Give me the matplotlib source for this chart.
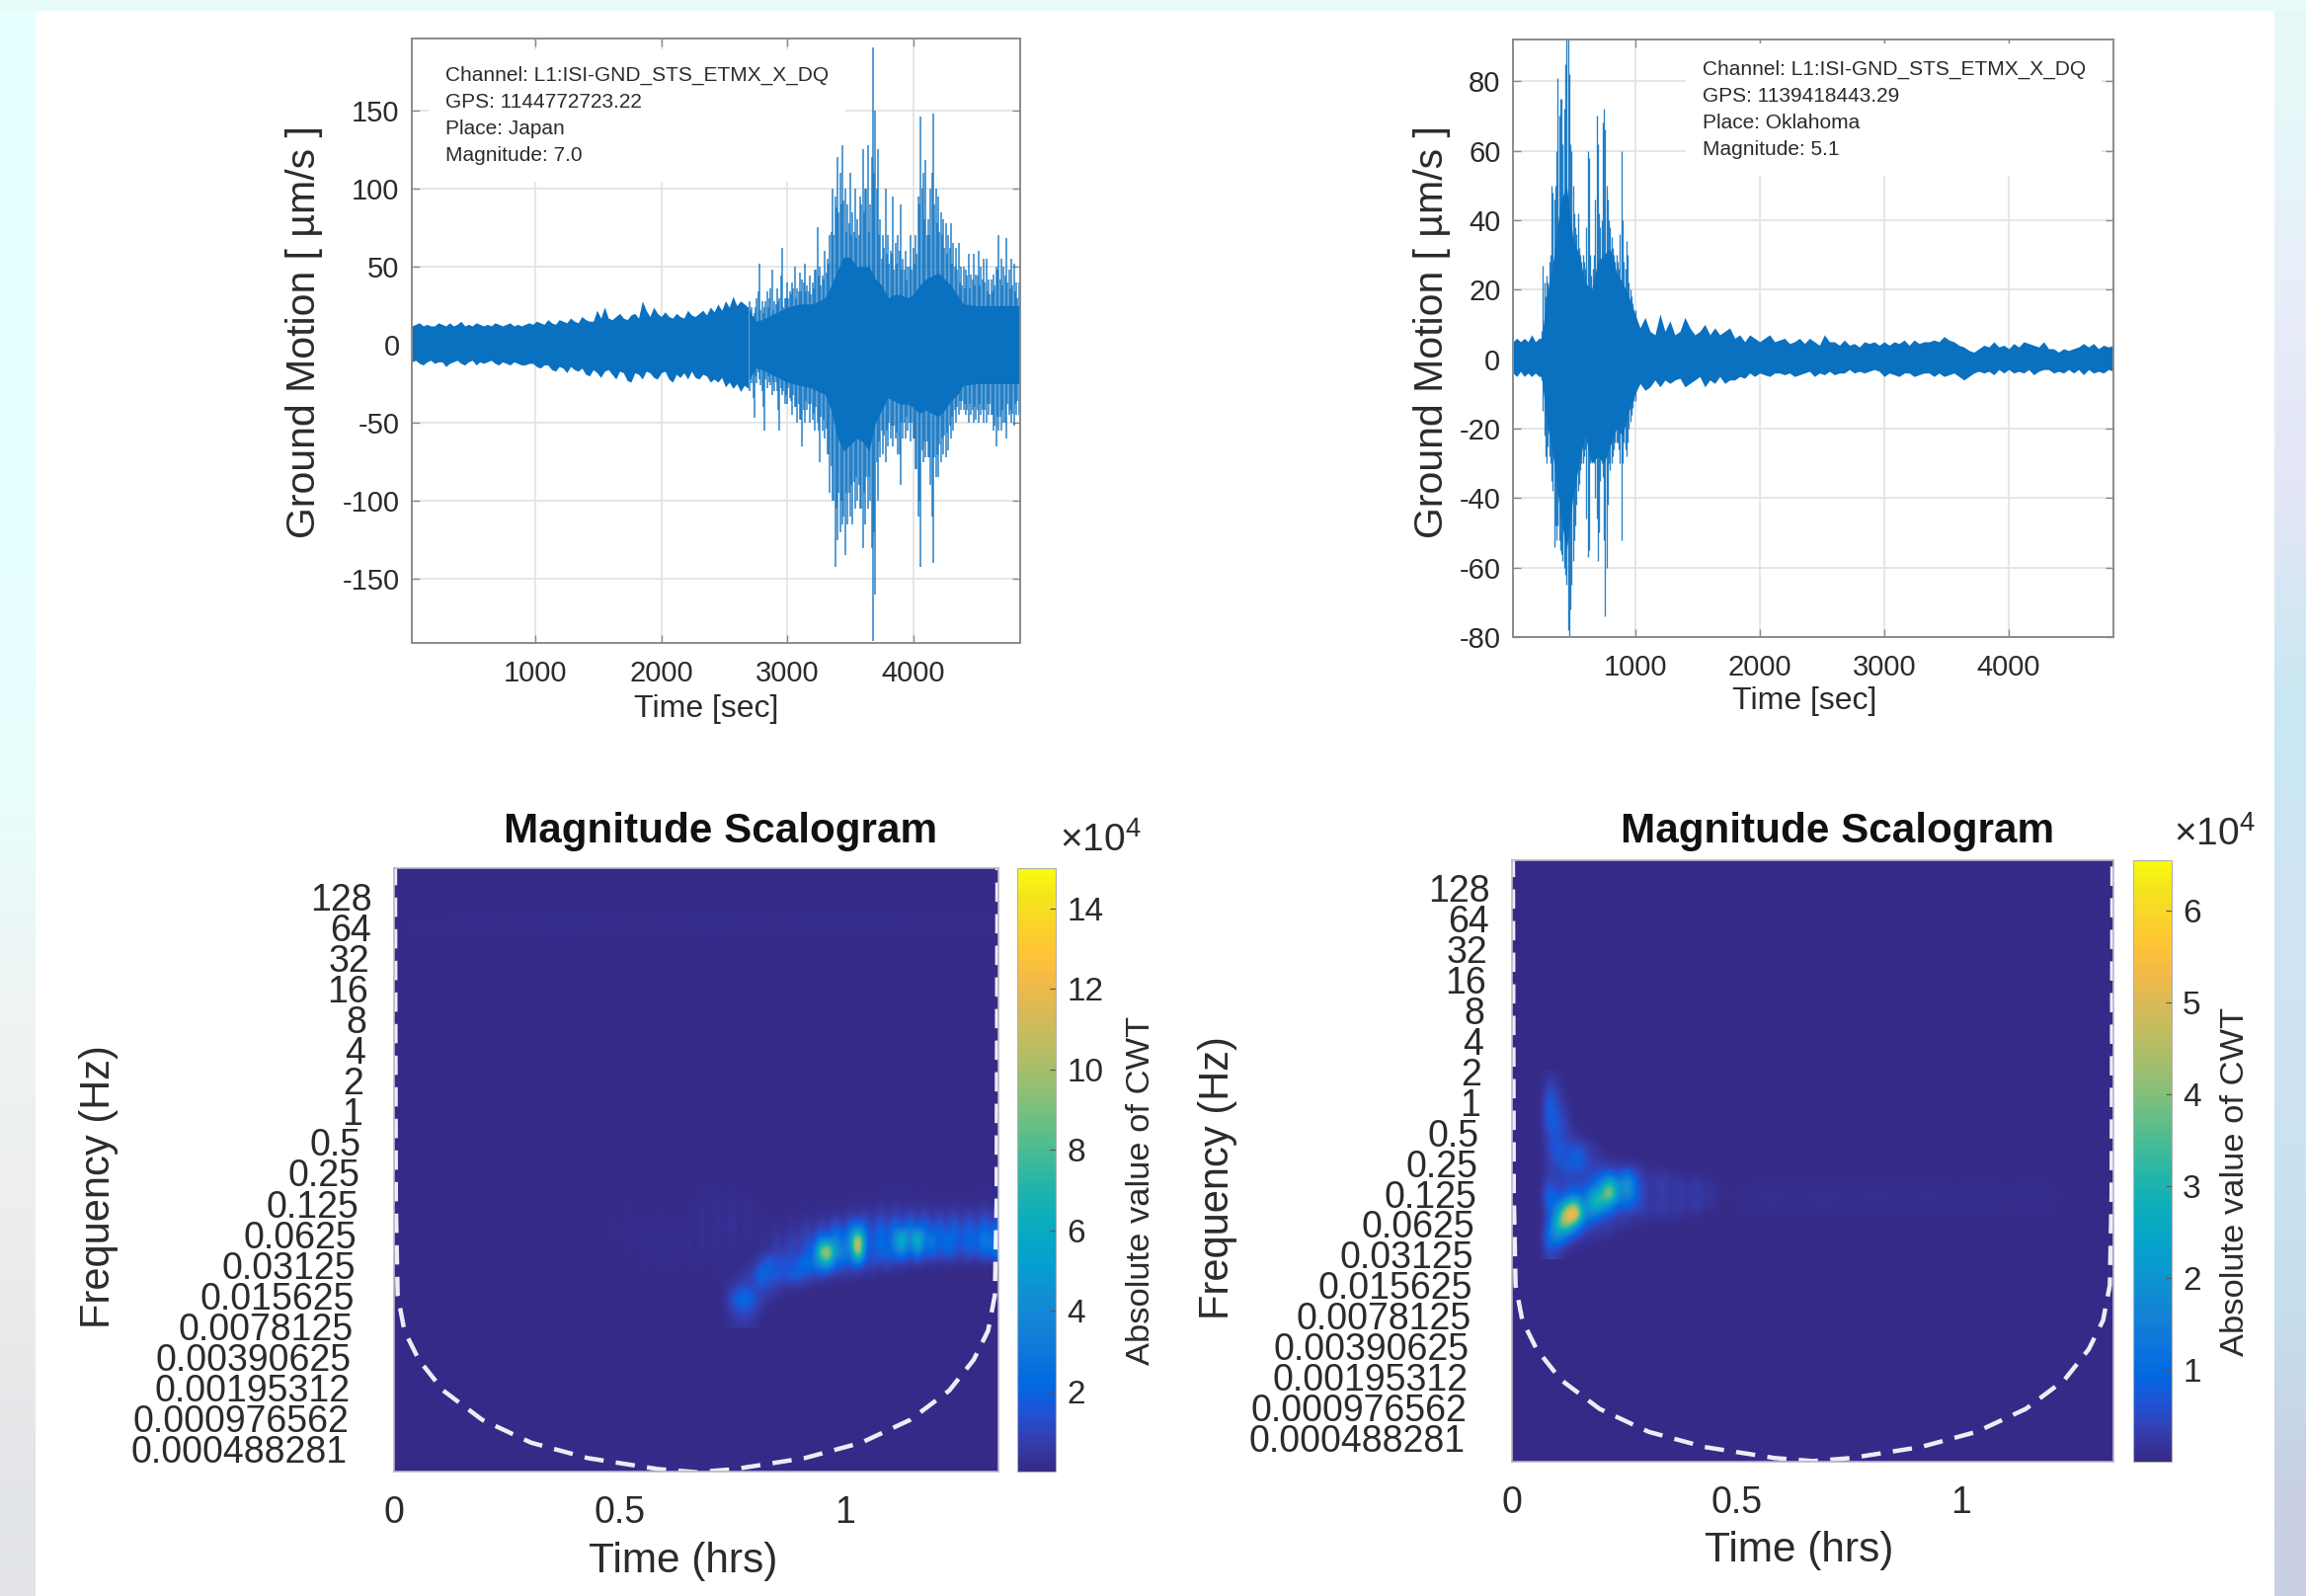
import numpy as np
import matplotlib
matplotlib.use('Agg')
import matplotlib.pyplot as plt
from matplotlib.colors import LinearSegmentedColormap, Normalize
from matplotlib.cm import ScalarMappable

plt.rcParams['font.family'] = ['Liberation Sans', 'DejaVu Sans']
plt.rcParams['mathtext.fontset'] = 'custom'
plt.rcParams['mathtext.rm'] = 'Liberation Sans'
plt.rcParams['axes.unicode_minus'] = False

W, H = 2335, 1616
BLUE = '#0a70c0'
TXT = '#2b2b2b'

# ---------- data: waveform, Japan ----------
jp_quiet_t = list(range(20, 2720, 30))
jp_quiet_up = [12,13,14,12,13,12,12,14,13,12,
 14,12,13,15,12,13,12,14,13,12,
 13,12,14,13,12,13,14,12,13,12,
 13,14,13,15,14,13,16,14,13,16,
 15,14,17,15,14,18,16,15,15,22,
 17,24,17,16,18,20,17,16,19,20,
 17,28,22,18,24,20,18,21,18,17,
 20,18,17,22,19,18,20,22,19,24,
 21,26,22,28,24,31,25,28,26,24]
jp_quiet_low = [-11,-10,-12,-13,-11,-10,-12,-11,-11,-14,
 -12,-11,-10,-12,-13,-11,-10,-13,-11,-12,
 -11,-10,-12,-13,-11,-12,-13,-11,-12,-13,
 -13,-12,-12,-14,-15,-13,-13,-16,-17,-14,
 -15,-18,-14,-16,-17,-15,-19,-20,-16,-18,
 -21,-17,-16,-19,-22,-17,-18,-23,-24,-18,
 -19,-22,-17,-18,-21,-22,-18,-17,-22,-24,
 -19,-21,-18,-22,-17,-21,-22,-19,-20,-24,
 -22,-24,-21,-27,-24,-28,-25,-30,-26,-28]
jp_core_t = [2700,2750,2800,2900,3000,3100,3200,3300,3350,3400,3450,3500,3550,3600,3650,3700,3750,3800,3850,3900,3950,4000,4050,4100,4150,4200,4250,4300,4350,4400,4500,4600,4700,4850]
jp_core_up = [22,15,16,20,24,26,26,30,38,48,56,56,50,50,50,42,38,30,32,32,30,32,38,42,44,46,42,38,32,26,25,25,25,25]
jp_core_low = [-22,-15,-16,-20,-24,-26,-28,-32,-42,-60,-68,-64,-60,-62,-68,-50,-42,-34,-36,-38,-38,-40,-44,-42,-44,-46,-42,-36,-32,-26,-25,-25,-25,-25]
jp_dense_t = list(range(2700, 4860, 20))
jp_dense_up = [28,24,20,30,52,
 28,24,34,30,48,
 28,36,30,62,30,
 40,34,40,50,36,
 46,42,52,38,44,
 40,48,75,50,44,
 60,55,70,100,95,
 120,110,128,100,90,
 110,85,100,80,95,
 125,100,128,90,190,
 150,125,80,70,100,
 70,60,95,65,70,
 90,55,60,50,70,
 62,70,95,146,110,
 118,80,100,148,100,
 95,85,80,78,70,
 78,65,62,65,50,
 50,48,58,45,58,
 45,60,50,55,55,
 42,42,45,50,70,
 55,50,68,48,55,
 52,40,40]
jp_dense_low = [-30,-25,-47,-25,-22,
 -30,-55,-28,-24,-32,
 -30,-30,-55,-32,-38,
 -38,-34,-45,-40,-50,
 -48,-65,-50,-42,-50,
 -48,-55,-50,-75,-55,
 -60,-70,-95,-100,-142,
 -125,-120,-115,-135,-115,
 -110,-115,-105,-100,-105,
 -130,-115,-105,-100,-190,
 -160,-100,-72,-70,-75,
 -65,-60,-65,-60,-70,
 -90,-60,-60,-55,-62,
 -60,-80,-110,-142,-75,
 -72,-72,-90,-140,-85,
 -85,-75,-70,-72,-68,
 -60,-55,-50,-45,-42,
 -42,-45,-50,-45,-50,
 -48,-50,-45,-50,-50,
 -45,-45,-55,-65,-55,
 -55,-50,-60,-45,-50,
 -52,-45,-45]
jp_mid_t = list(range(2710, 4870, 20))
jp_mid_up = [22,18,24,34,22, 20,28,24,36,22, 26,28,44,24,30, 30,32,36,30,34, 34,40,34,34,32, 36,48,44,38,42, 46,52,72,70,88, 85,90,92,72,78, 70,72,68,70,90, 85,100,72,120,110, 100,70,55,62,58, 52,58,48,52,60, 48,48,42,50,48, 52,58,90,100,80, 70,70,110,90,78, 72,70,62,58,62, 52,50,48,40,38, 36,44,36,42,38, 44,38,42,40,34, 32,34,38,48,42, 38,44,40,36,38, 34,30,34]
jp_mid_low = [-22,-34,-20,-18,-26, -40,-22,-20,-26,-24, -24,-42,-28,-30,-32, -28,-36,-32,-40,-38, -48,-42,-36,-38,-38, -44,-40,-55,-46,-48, -54,-70,-78,-100,-105, -95,-100,-110,-95,-95, -90,-88,-85,-90,-105, -95,-85,-85,-130,-120, -75,-62,-55,-58,-55, -50,-52,-52,-56,-70, -50,-50,-46,-50,-50, -60,-80,-100,-68,-62, -62,-72,-110,-72,-70, -64,-60,-58,-56,-52, -46,-42,-40,-36,-36, -38,-42,-38,-42,-40, -42,-38,-42,-42,-38, -38,-45,-52,-46,-46, -42,-50,-38,-42,-44, -38,-36,-36]

# ---------- data: waveform, Oklahoma ----------
ok_quiet_t = list(range(20, 290, 30))
ok_quiet_up = [5,6,5,6,5,7,5,6,6]
ok_quiet_low = [-4,-5,-3.5,-5,-4,-5,-4,-5,-5]
ok_core_t = [250,280,300,350,400,450,500,550,600,650,700,750,800,850,900,950,1000]
ok_core_up = [6,15,20,30,45,50,35,30,22,20,28,30,32,25,22,18,13]
ok_core_low = [-5,-15,-20,-30,-45,-55,-40,-30,-22,-30,-28,-30,-25,-20,-22,-15,-10]
ok_dense_t = list(range(250, 1010, 10))
ok_dense_up = [8,27,22,18,24,22,28,30,50,48,
 46,50,60,81,70,75,75,62,72,85,
 92,92,82,62,60,50,42,38,36,42,
 32,30,28,30,28,26,38,60,58,30,
 24,26,30,46,70,62,42,38,40,68,
 72,66,50,46,40,38,35,32,30,28,
 30,28,26,36,60,40,28,26,34,30,
 22,20,18,16,14,14]
ok_dense_low = [-6,-15,-22,-28,-30,-25,-28,-30,-35,-38,
 -54,-48,-52,-48,-52,-55,-56,-58,-60,-62,
 -65,-78,-80,-72,-65,-58,-52,-48,-42,-38,
 -36,-32,-30,-30,-28,-26,-46,-57,-55,-30,
 -26,-28,-30,-40,-46,-58,-50,-35,-30,-34,
 -52,-74,-60,-42,-30,-32,-30,-28,-26,-24,
 -24,-24,-26,-30,-52,-30,-24,-26,-28,-24,
 -20,-18,-16,-14,-12,-12]
ok_tail_t = list(range(1000, 4880, 40))
ok_tail_up = [13,9,12,8,7,13,8,11,7,8,
 12,9,7,8,10,7,9,7,8,9,
 6,7,5,7,6,5,6,7,5,5.5,
 6,4.5,5,6,4.5,6,5,4,7,5,
 5,4,5.5,4,4.5,3.5,5,4.5,5,4,
 5,4,5,4.5,5.5,4,5.5,4.5,5,5,
 5.5,5,6.5,5.5,5,4,3.5,2.5,2,3,
 4,3.5,5,3.5,4,3,4.5,3.5,5,4.5,
 4,3.5,5,3,3,2,3,2.5,3,3.5,
 4.5,3.5,4.5,3,4,3.5,4]
ok_tail_low = [-10,-7,-9,-8,-6,-8,-6,-7,-6,-5.5,
 -8,-7,-6,-5,-8,-6,-7,-5,-7,-6,
 -6,-5,-5.5,-4,-5,-4,-4.5,-5,-4,-4,
 -4.5,-4,-5,-4.5,-4,-3.5,-5,-4,-4.5,-3.5,
 -4.5,-4,-4,-3,-4,-3.5,-4,-3.5,-3,-3.5,
 -5,-4,-4.5,-5,-4,-4,-5,-4.5,-4,-4,
 -5,-4,-5,-4.5,-4,-5,-6,-5,-4,-3.5,
 -4,-3.5,-4.5,-3,-4,-3,-4,-3.5,-4,-3,
 -4.5,-3.5,-3,-3,-4,-3.5,-4,-3,-4,-3,
 -4.5,-3,-4,-3.5,-4,-3,-3.5]

# ---------- data: scalograms ----------
freq_labels = ['128','64','32','16','8','4','2','1','0.5','0.25','0.125','0.0625','0.03125','0.015625','0.0078125','0.00390625','0.00195312','0.000976562','0.000488281']
freq_octaves = [7,6,5,4,3,2,1,0,-1,-2,-3,-4,-5,-6,-7,-8,-9,-10,-11]
coi_t = [0.002,0.004,0.008,0.023,0.055,0.109,0.195,0.304,0.429,0.585,0.67,0.755,0.91,1.035,1.144,1.23,1.284,1.316,1.331,1.335,1.337]
coi_oct = [8,-3,-6,-7.15,-8.1,-9.1,-10.05,-10.8,-11.3,-11.66,-11.76,-11.66,-11.3,-10.8,-10.05,-9.1,-8.1,-7.15,-6,-3,8]

jp_rows = [
 [0,.2,0,.2,0,.2,0,.15,0,0,0,0,0,0,0,0,0,0,0,0,0,.1,0,.1,0,.15,.1,.1,.1,.15,0,.15,0,.1,0,.15,0,.1,.05,.15,.05,.1],
 [.1,.3,.05,.35,.05,.35,.05,.35,.05,.1,0,0,0,.1,0,.15,0,.15,0,.15,0,.2,.05,.2,.05,.35,.1,.4,.1,.4,.1,.35,.05,.2,.05,.35,.05,.3,.05,.4,.1,.2],
 [.1,.35,.05,.35,.05,.4,.05,.35,.05,.15,.05,.15,.05,.2,.05,.35,.05,.35,.1,.6,.2,.8,.3,1.0,.3,1.1,.4,1.2,.4,1.3,.4,1.2,.4,1.0,.4,1.0,.4,1.0,.4,1.3,.5,1.2],
 [.05,.35,.05,.4,.05,.5,.05,.35,.05,.2,.05,.4,.1,.5,.15,.9,.3,1.2,.6,2.0,.8,2.3,3,2.3,.6,2.5,.8,3,1.0,3.5,1.0,3,.8,2.5,.8,2.5,.8,2.5,.8,2.6,1.0,3],
 [.05,.4,.05,.4,.05,.4,.05,.35,.05,.35,.1,.7,.2,1.0,.4,1.5,.8,3,2,4,2,4.5,15,2.5,1.2,3,1.6,4,10,1.8,11,2,4,1.6,3,2,1.4,2.6,1.6,4,2.4,4.5],
 [.05,.3,.05,.2,.05,.2,.05,.2,.05,.35,.2,1.0,.4,1.4,.5,1.8,1.5,11,14,4.5,4,2.5,15,1.6,1.2,2.6,1.6,3,4,1.4,4.5,1.6,2.6,1.2,2.6,1.6,1,2.2,1.2,2.6,2.2,4],
 [.05,.15,.05,.15,.05,.15,.1,.2,.3,1.2,2.6,1,2.1,1,2.1,3,2.6,5,6,2,2.4,1.3,2.6,.8,1.5,.6,1.5,.4,.8,.3,.6,.2,.35,.15,.2,.2,.15,.2,.05,.15,.05,.15],
 [.05,.05,0,.15,.15,.2,.3,.6,1.2,3,1.3,2.1,1.2,2.1,2.1,1.4,.9,.8,.4,.4,.3,.3,.2,.2,.15],
 [0,0,0,.05,.2,.4,.9,1.2,.8,1.1,1.1,.6,.4,.3,.2,.15,.05,.05],
 [0,0,0,0,.2,1.6,2.6,2.8,1.6,.8,.3,.15,.05],
 [0,0,0,0,.15,.7,1.2,1.3,.8,.3,.05],
 [0,0,0,0,.05,.35,.5,.5,.3,.05],
]
jp_faint = [
 [0,.05,0,.1,0,.05,0,.05,0,.05,0,.05],
 [0,.2,0,.25,0,.2,0,.25,0,.25,0,.2],
 [0,.12,0,.2,0,.25,0,.25,0,.25,0,.25],
 [0,0,0,.05,0,.12,0,.2,0,.2,0,.12],
]
jp_band = [
 [.03,.06,.05,.06,.06,.05,.06,.06,.05,.06,.06,.06,.05,.06],
 [.12,.16,.13,.18,.16,.13,.16,.18,.13,.16,.18,.16,.13,.12],
 [.06,.08,.06,.08,.06,.08,.06,.08,.06,.08,.06,.08,.06,.06],
]
ok_rows = [
 [0,.2,.05],
 [0,.5,.2],
 [0,.8,.3,.05],
 [0,1.0,.4,.1],
 [0,1.0,.6,.2],
 [0,.9,.7,.35,.05],
 [0,.6,.6,.35,.15,.05],
 [0,.5,.8,.45,.6,.3,.2,.05],
 [0,.35,.9,.5,1.0,.7,.2,.2,.05,.05],
 [0,.35,.5,.7,1.0,.6,.35,.3,.2,.2,.15,.15,.05],
 [0,.35,.35,.5,.4,.4,.6,.8,1.0,.6,1.3,.6,.2,.15,.3,.15,.15,.05,.15,.05],
 [0,.7,.3,.5,.6,.5,.8,1.8,4.0,1.5,2.8,.8,.3,.15,.4,.15,.3,.15,.3,.15,.15],
 [0,1.3,.4,.8,1.2,.7,2.6,3.3,5.2,1.5,1.8,1.0,.35,.15,.4,.15,.35,.15,.3,.15,.2,.05,.05],
 [0,1.0,1.3,3,4.5,1.0,3.5,3.0,1.8,.8,1.0,.6,.35,.15,.35,.15,.3,.15,.3,.15,.15],
 [0,.5,2.5,6,6.9,1.6,1.6,.8,.6,.3,.35,.2,.3,.15,.3,.15,.2,.05,.15,.05],
 [0,.8,3.5,4.8,2.3,.7,.5,.3,.3,.15,.2,.05,.05],
 [0,1.3,2.3,1.3,.6,.3,.2,.15,.15],
 [0,1.1,.8,.35,.15,.05,.05,.05],
 [0,.45,.2,.05],
]
ok_trail = [
 [0,.03,0,.03,0,.03,0,.03,0,.03,0,.03,0,0],
 [.06,.16,.06,.14,.06,.13,.06,.13,.05,.12,.05,.1,.04,0],
 [.03,.1,.03,.1,.03,.09,.03,.09,.02,.08,.02,.06,.02,0],
]

# ---------- data: page background ----------
left_strip = ['#e6ffff','#e6ffff','#e6ffff','#e8fdfc','#eff3f3','#ecedee','#e3e5e8']
right_strip = ['#e6f8f8','#e8eef9','#e3e6f6','#c9e8f2','#cfe4f5','#cde3f4','#c6dfee','#c8cfe4']

PARULA = [(.2081,.1663,.5292),(.2081,.2386,.6771),(.1253,.3242,.8303),(.0060,.4086,.8828),(.0498,.4586,.8641),(.0779,.5040,.8384),(.0641,.5570,.8240),(.0265,.6137,.8135),(.0228,.6535,.7768),(.0590,.6838,.7254),(.1453,.7098,.6646),(.2586,.7317,.5954),(.3953,.7459,.5244),(.5300,.7491,.4661),(.6473,.7456,.4188),(.7525,.7384,.3768),(.8507,.7299,.3360),(.9450,.7261,.2886),(.9990,.7653,.2164),(.9789,.8271,.1633),(.9589,.8949,.1132),(.9763,.9831,.0538)]
parula = LinearSegmentedColormap.from_list('parula', PARULA, 256)


def rect(l, t, r, b):
    return [l / W, 1 - b / H, (r - l) / W, (b - t) / H]


def ptext(x, y, s, **kw):
    kw.setdefault('ha', 'center')
    kw.setdefault('va', 'center')
    kw.setdefault('color', TXT)
    fig.text(x / W, 1 - y / H, s, **kw)


fig = plt.figure(figsize=(W / 100, H / 100), dpi=100, facecolor='white')

# background strips
bg = fig.add_axes([0, 0, 36 / W, 1], zorder=-5)
bg.imshow(matplotlib.colors.to_rgba_array(left_strip).reshape(-1, 1, 4), aspect='auto', interpolation='bilinear')
bg.axis('off')
bg = fig.add_axes([2303 / W, 0, 32 / W, 1], zorder=-5)
bg.imshow(matplotlib.colors.to_rgba_array(right_strip).reshape(-1, 1, 4), aspect='auto', interpolation='bilinear')
bg.axis('off')
fig.patches.append(plt.Rectangle((0, 1 - 10 / H), 1, 10 / H, transform=fig.transFigure, color='#e6fbfa', zorder=-4))


def wave(box, fills, needles, xlim, ylim, yticks, info, info_xy, ylab_xy, xlab_xy):
    ax = fig.add_axes(rect(*box))
    ax.grid(True, color='#e4e4e4', lw=1.3)
    ax.set_axisbelow(True)
    ax.text(info_xy[0], info_xy[1], '\n'.join(info), transform=ax.transAxes, fontsize=15, color=TXT, va='top', ha='left',
            linespacing=1.53, zorder=1.5, bbox=dict(fc='white', ec='none', pad=12))
    for t, up, low in fills:
        ax.fill_between(t, low, up, color=BLUE, lw=0, zorder=3)
    for t, up, low, lw in needles:
        ax.vlines(t, low, up, color=BLUE, lw=lw, alpha=.88, zorder=3)
    ax.set_xlim(*xlim)
    ax.set_ylim(*ylim)
    ax.set_xticks([1000, 2000, 3000, 4000])
    ax.set_yticks(yticks)
    ax.tick_params(direction='in', top=True, right=True, length=6, width=1, color='#8a8a8a', labelsize=21, labelcolor=TXT, pad=9)
    ax.tick_params(axis='x', pad=12)
    for s in ax.spines.values():
        s.set_color('#8a8a8a')
        s.set_linewidth(1.4)
        s.set_zorder(5)
    ptext(*ylab_xy, 'Ground Motion [ µm/s ]', rotation=90, fontsize=29.5)
    ptext(*xlab_xy, 'Time [sec]', fontsize=23)


wave((417, 39, 1033, 651), [(jp_quiet_t, jp_quiet_up, jp_quiet_low), (jp_core_t, jp_core_up, jp_core_low)],
     [(jp_mid_t, jp_mid_up, jp_mid_low, 1.1), (jp_dense_t, jp_dense_up, jp_dense_low, 1.1)],
     (20, 4850), (-191, 196), [-150, -100, -50, 0, 50, 100, 150],
     ['Channel: L1:ISI-GND_STS_ETMX_X_DQ', 'GPS: 1144772723.22', 'Place: Japan', 'Magnitude: 7.0'],
     (.055, .954), (308, 336), (715, 718))
wave((1532, 40, 2140, 645), [(ok_quiet_t, ok_quiet_up, ok_quiet_low), (ok_core_t, ok_core_up, ok_core_low), (ok_tail_t, ok_tail_up, ok_tail_low)],
     [(ok_dense_t, ok_dense_up, ok_dense_low, .95)],
     (20, 4840), (-80, 92), [-80, -60, -40, -20, 0, 20, 40, 60, 80],
     ['Channel: L1:ISI-GND_STS_ETMX_X_DQ', 'GPS: 1139418443.29', 'Place: Oklahoma', 'Magnitude: 5.1'],
     (.315, .965), (1450, 336), (1827, 710))


def pad(rows):
    n = max(len(r) for r in rows)
    return np.array([list(r) + [0] * (n - len(r)) for r in rows], float)


def scalo(box, cbox, vmax, patches, cticks, ylim, title_xy, xlab_xy, ylab_xy, clab_xy, exp_xy):
    ax = fig.add_axes(rect(*box), facecolor=PARULA[0])
    for m, ext in patches:
        ax.imshow(pad(m), extent=ext, cmap=parula, vmin=0, vmax=vmax, interpolation='bicubic', aspect='auto', origin='upper')
    ax.plot(coi_t, coi_oct, color='white', ls=(0, (4.4, 2.8)), lw=3.2, alpha=.92)
    ax.set_xlim(0, 1.339)
    ax.set_ylim(*ylim)
    ax.set_xticks([0, .5, 1])
    ax.set_xticklabels(['0', '0.5', '1'])
    ax.set_yticks(freq_octaves)
    ax.set_yticklabels(freq_labels)
    ax.tick_params(length=0, labelsize=27, labelcolor=TXT)
    ax.tick_params(axis='x', pad=17)
    for i, tk in enumerate(ax.yaxis.get_major_ticks()):
        tk.set_pad(16 + i * 1.0)
    for s in ax.spines.values():
        s.set_color('#b5b5c8')
        s.set_linewidth(1.2)
    cax = fig.add_axes(rect(*cbox))
    cb = fig.colorbar(ScalarMappable(Normalize(0, vmax), parula), cax=cax)
    cb.set_ticks(cticks)
    cax.tick_params(length=4, direction='in', labelsize=24, labelcolor=TXT, pad=8, color='#555555')
    cb.outline.set_edgecolor('#b0b0b0')
    ptext(*title_xy, 'Magnitude Scalogram', fontsize=30.4, fontweight='bold', color='#111111')
    ptext(*xlab_xy, 'Time (hrs)', fontsize=30.5)
    ptext(*ylab_xy, 'Frequency (Hz)', rotation=90, fontsize=30)
    ptext(*clab_xy, 'Absolute value of CWT', rotation=90, fontsize=24.8)
    ptext(*exp_xy, r'$\mathregular{\times 10^{4}}$', fontsize=28)


scalo((399, 879, 1011, 1490), (1030, 879, 1069, 1490), 15,
      [(jp_band, [.03, 1.33, 5.5, 6.6]), (jp_faint, [.46, .66, -5.3, -2.7]), (jp_rows, [.659, 1.348, -7.06, -2.43])],
      [2, 4, 6, 8, 10, 12, 14], (-11.74, 7.93), (730, 842), (692, 1581), (100, 1202), (1155, 1205), (1114, 851))
scalo((1531, 871, 2140, 1480), (2160, 871, 2199, 1480), 6.55,
      [(ok_trail, [.49, 1.3, -3.7, -2.2]), (ok_rows, [.055, .495, -5.15, 1.0])],
      [1, 2, 3, 4, 5, 6], (-11.78, 7.92), (1861, 842), (1822, 1570), (1233, 1193), (2264, 1196), (2242, 845))

fig.savefig('out.png', dpi=100)
